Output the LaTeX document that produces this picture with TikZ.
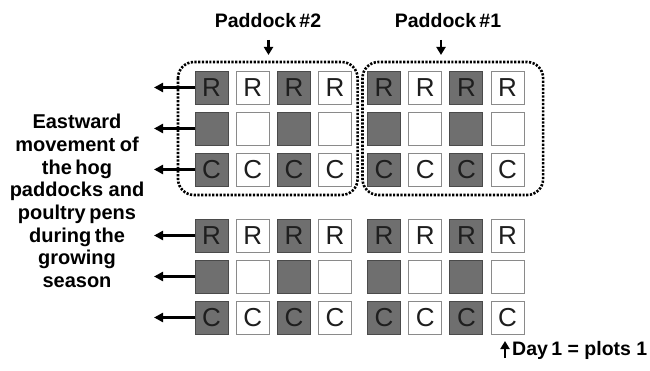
\documentclass[tikz,border=0pt]{standalone}
\usepackage{fontspec}
\setmainfont{Liberation Sans}
\usetikzlibrary{arrows.meta,calc}

\definecolor{plotdark}{HTML}{6F6F6F}
\definecolor{plotedge}{HTML}{4A4A4A}
\definecolor{plotline}{HTML}{8A8A8A}
\definecolor{plottext}{HTML}{1E1E1E}

\tikzset{
  plot/.style={minimum size=33pt, inner sep=0pt, outer sep=0pt, line width=0.9pt,
    font=\fontsize{26}{26}\selectfont, text=plottext},
  darkplot/.style={plot, fill=plotdark, draw=plotedge},
  lightplot/.style={plot, fill=white, draw=plotline},
  moveline/.style={line width=2.5pt, -{Triangle[length=9pt,width=9pt]}},
  paddockline/.style={line width=2.6pt, dash pattern=on 2.2pt off 1.5pt, rounded corners=16pt},
  smallarrow/.style={line width=2.4pt, -{Triangle[length=8pt,width=9pt]}},
  heading/.style={font=\bfseries\fontsize{19.5}{19.5}\selectfont, inner sep=0pt},
  sidetext/.style={font=\bfseries\fontsize{20}{22.7}\selectfont, align=center, inner sep=0pt}
}

\begin{document}
\begin{tikzpicture}[x=1pt, y=-1pt]
\useasboundingbox (0,0) rectangle (650,371);

% two blocks of 3 x 8 plots: t = top block, b = bottom block
\foreach \blk/\ya in {t/87.5, b/235.5} {
  \foreach \c in {1,...,8} {
    \pgfmathsetmacro{\xx}{\c<5 ? 211.5+41.2*(\c-1) : 384+41.2*(\c-5)}
    \pgfmathtruncatemacro{\odd}{mod(\c,2)}
    \ifnum\odd=1 \def\sty{darkplot}\else\def\sty{lightplot}\fi
    \node[\sty] (\blk-1-\c) at (\xx,\ya) {R};
    \node[\sty] (\blk-2-\c) at (\xx,\ya+41) {};
    \node[\sty] (\blk-3-\c) at (\xx,\ya+82) {C};
  }
}

% westward arrows leaving the first column
\foreach \blk in {t,b} {
  \foreach \r in {1,2,3} {
    \coordinate (\blk-tip-\r) at ($(\blk-\r-1.west)+(-41,0)$);
    \draw[moveline] (\blk-\r-1.west) -- (\blk-tip-\r);
  }
}

% dotted paddock outlines
\draw[paddockline] ($(t-1-1.north west)+(-17,-9)$) rectangle ($(t-3-4.south east)+(6,9)$);
\draw[paddockline] ($(t-1-5.north west)+(-5,-9)$) rectangle ($(t-3-8.south east)+(19,9)$);

% paddock headings
\node[heading] (p2) at (268,21) {Paddock\,\#2};
\node[heading] (p1) at (448,21) {Paddock\,\#1};
\coordinate (p2a) at (268.5,40);
\coordinate (p2b) at (268.5,55);
\coordinate (p1a) at (441,40);
\coordinate (p1b) at (441,55);
\draw[smallarrow] (p2a) -- (p2b);
\draw[smallarrow] (p1a) -- (p1b);

% side caption
\node[sidetext] (side) at (77,201) {Eastward\\movement\hspace{-1pt} of\\the\hspace{-2pt} hog\\paddocks and\\poultry\hspace{-2pt} pens\\during\hspace{-2pt} the\\growing\\season};

% day 1 marker
\coordinate (d1b) at (505,358);
\coordinate (d1a) at (505,341);
\draw[smallarrow] (d1b) -- (d1a);
\node[heading, anchor=west] (day) at (512,350) {Day\hspace{-2pt} 1 = plots 1};
\end{tikzpicture}
\end{document}
